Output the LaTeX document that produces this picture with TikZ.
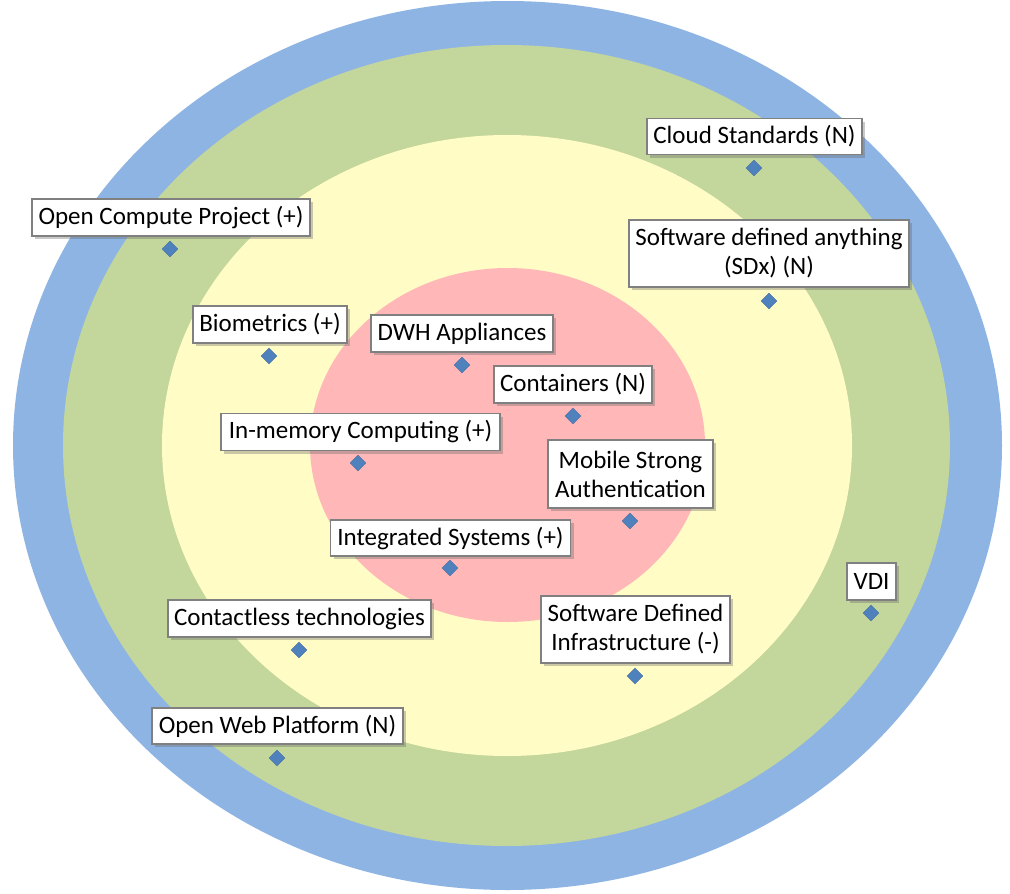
\documentclass[tikz,border=0pt]{standalone}
\usepackage{fontspec}
\setmainfont{Carlito}
\usetikzlibrary{shapes.geometric,shadows}
\definecolor{ringblue}{HTML}{8EB4E3}
\definecolor{ringgreen}{HTML}{C3D69B}
\definecolor{ringyellow}{HTML}{FFFCC6}
\definecolor{ringred}{HTML}{FFB7B7}
\definecolor{dotblue}{HTML}{4F81BD}
\begin{document}
\begin{tikzpicture}
[   x=1pt, y=-1pt,
    lbl/.style={draw=black!50, line width=1.6pt, fill=white, align=center, inner sep=0pt,
        font=\fontsize{25}{29}\selectfont,
        drop shadow={shadow xshift=3pt, shadow yshift=-3pt, opacity=0.35, fill=black!60}},
    dot/.style={diamond, fill=dotblue, draw=dotblue!85!black, line width=0.4pt,
        inner sep=0pt, minimum width=16pt, minimum height=16pt},
]
\useasboundingbox (0,0) rectangle (1010,894);
\fill[white] (0,0) rectangle (1010,894);

\fill[ringblue] (507.5,445.5) ellipse [x radius=494.5pt, y radius=444.5pt];
\fill[ringgreen] (506.5,445.5) ellipse [x radius=443.5pt, y radius=400.5pt];
\fill[ringyellow] (507,445.5) ellipse [x radius=345pt, y radius=310.5pt];
\fill[ringred] (507.5,445) ellipse [x radius=197.5pt, y radius=177pt];

\node[lbl, minimum width=278pt, minimum height=37pt] (A) at (171,217.5) {Open Compute Project (+)};
\node[lbl, minimum width=154pt, minimum height=37pt] (B) at (270,324.5) {Biometrics (+)};
\node[lbl, minimum width=215pt, minimum height=36pt] (C) at (754.5,136.5) {Cloud Standards (N)};
\node[lbl, minimum width=280pt, minimum height=67pt] (D) at (769,253.5) {Software defined anything\\(SDx) (N)};
\node[lbl, minimum width=182pt, minimum height=37pt] (E) at (462,333.5) {DWH Appliances};
\node[lbl, minimum width=158pt, minimum height=37pt] (F) at (573,384.5) {Containers (N)};
\node[lbl, minimum width=279pt, minimum height=37pt] (G) at (360.5,432) {In-memory Computing (+)};
\node[lbl, minimum width=165pt, minimum height=68pt] (H) at (630.5,474) {Mobile Strong\\Authentication};
\node[lbl, minimum width=240pt, minimum height=36pt] (I) at (450.5,538) {Integrated Systems (+)};
\node[lbl, minimum width=189pt, minimum height=67pt] (J) at (635.5,629.5) {Software Defined\\Infrastructure (-)};
\node[lbl, minimum width=49pt, minimum height=37pt] (K) at (871.5,581.5) {VDI};
\node[lbl, minimum width=263pt, minimum height=37pt] (L) at (299.5,618.5) {Contactless technologies};
\node[lbl, minimum width=251pt, minimum height=36pt] (M) at (277.5,726) {Open Web Platform (N)};

\node[dot] (a) at (170,249) {};
\node[dot] (b) at (269,356) {};
\node[dot] (c) at (754,168) {};
\node[dot] (d) at (769,301) {};
\node[dot] (e) at (462,365) {};
\node[dot] (f) at (573,416) {};
\node[dot] (g) at (358,463) {};
\node[dot] (h) at (630,521) {};
\node[dot] (i) at (450,568) {};
\node[dot] (j) at (635,676) {};
\node[dot] (k) at (871,613) {};
\node[dot] (l) at (299,650) {};
\node[dot] (m) at (277,758) {};

\end{tikzpicture}
\end{document}
